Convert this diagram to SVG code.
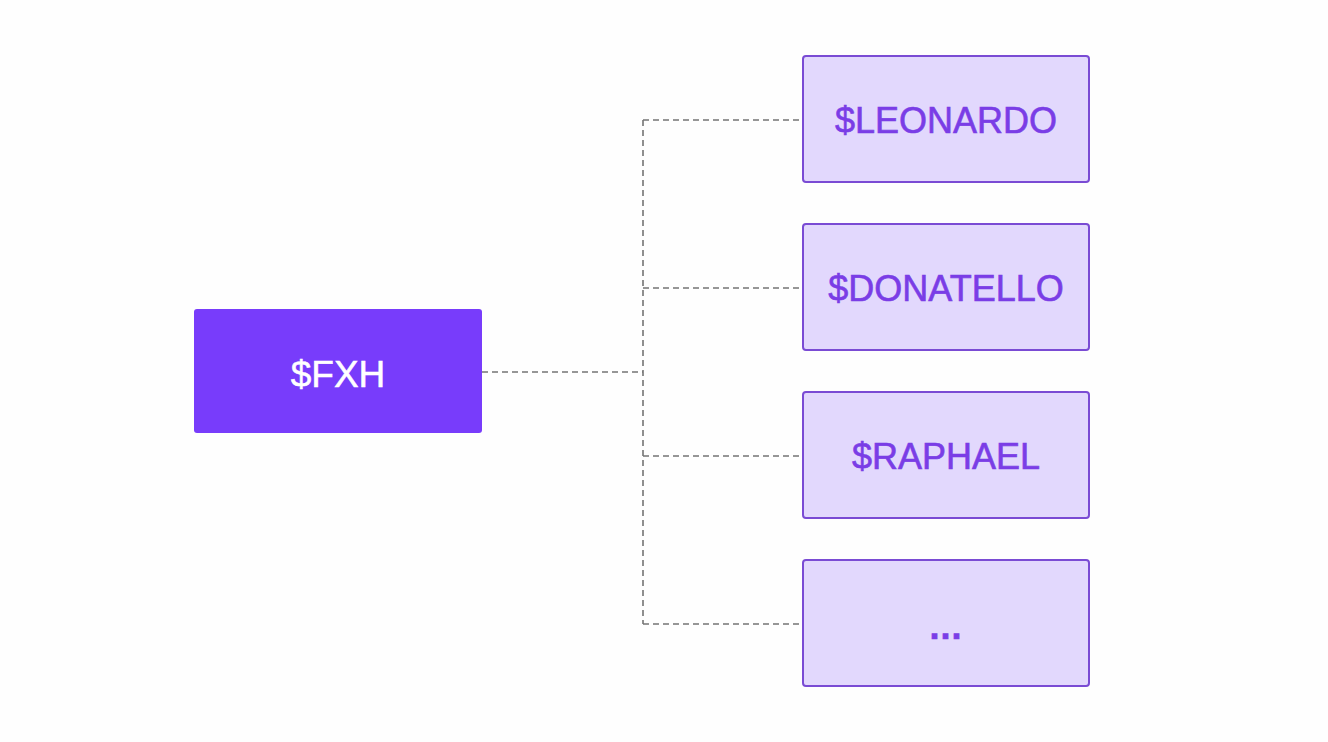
<svg xmlns="http://www.w3.org/2000/svg" width="1328" height="742" viewBox="0 0 1328 742">
<style>
.bg{fill:#fefefe}
.main rect{fill:#783cfb}
.main text{fill:#ffffff;stroke:#ffffff;stroke-width:0.5;font-size:37px}
.child rect{fill:#e2d8fd;stroke:#7a4bd4;stroke-width:2}
.child text{fill:#7a3de6;stroke:#7a3de6;stroke-width:0.6}
text{font-family:"Liberation Sans",Arial,sans-serif;font-size:36px;text-anchor:middle}
.conn{fill:none;stroke:#747474;stroke-width:1.6;stroke-dasharray:6 4}
</style>
<rect class="bg" x="0" y="0" width="1328" height="742"/>
<g id="connectors">
<path class="conn" d="M482 372 H643"/>
<path class="conn" d="M643 120 V624"/>
<path class="conn" d="M643 120 H803"/>
<path class="conn" d="M643 288 H803"/>
<path class="conn" d="M643 456 H803"/>
<path class="conn" d="M643 624 H803"/>
</g>
<g id="fxh" class="main">
<rect x="194" y="309" width="288" height="124" rx="3"/>
<text x="338" y="387">$FXH</text>
</g>
<g id="leonardo" class="child">
<rect x="803" y="56" width="286" height="126" rx="3"/>
<text x="946" y="133">$LEONARDO</text>
</g>
<g id="donatello" class="child">
<rect x="803" y="224" width="286" height="126" rx="3"/>
<text x="946" y="301">$DONATELLO</text>
</g>
<g id="raphael" class="child">
<rect x="803" y="392" width="286" height="126" rx="3"/>
<text x="946" y="469">$RAPHAEL</text>
</g>
<g id="more" class="child">
<rect x="803" y="560" width="286" height="126" rx="3"/>
<text x="946" y="639" style="font-weight:bold;letter-spacing:1px">...</text>
</g>
</svg>
